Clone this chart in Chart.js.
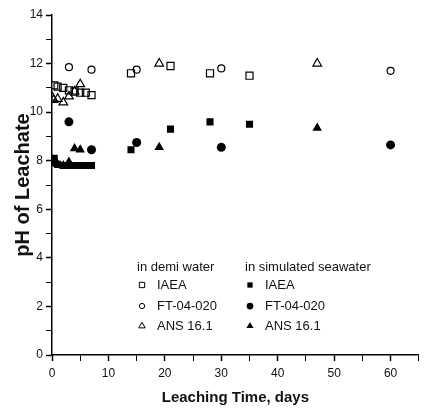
<!DOCTYPE html>
<html>
<head>
<meta charset="utf-8">
<script src="https://cdn.jsdelivr.net/npm/chart.js@4/dist/chart.umd.min.js"></script>
<style>
  body { margin: 0; background: #fff; }
  canvas { display: block; }
</style>
</head>
<body>
<canvas id="myChart" width="425" height="417"></canvas>
<script>
// leaching days per test method
const iaeaDays = [0.4, 1, 2, 3, 4, 5, 6, 7, 14, 21, 28, 35];
const ftDays = [3, 7, 15, 30, 60];
const ansDays = [0.08, 0.29, 1, 2, 3, 4, 5, 19, 47];

// pH in demi water
const demiIaeaPH = [11.1, 11.05, 11.0, 10.9, 10.85, 10.8, 10.8, 10.7, 11.6, 11.9, 11.6, 11.5];
const demiFtPH = [11.85, 11.75, 11.75, 11.8, 11.7];
const demiAnsPH = [10.6, 10.5, 10.55, 10.4, 10.65, 10.85, 11.15, 12.0, 12.0];

// pH in simulated seawater
const seaIaeaPH = [8.1, 7.85, 7.8, 7.8, 7.8, 7.8, 7.8, 7.8, 8.45, 9.3, 9.6, 9.5];
const seaFtPH = [9.6, 8.45, 8.75, 8.55, 8.65];
const seaAnsPH = [7.95, 7.9, 7.85, 7.8, 7.95, 8.5, 8.45, 8.55, 9.35];

const legendTitles = ["in demi water", "in simulated seawater"];
const xTickLabels = [0, 10, 20, 30, 40, 50, 60];
const yTickLabels = [0, 2, 4, 6, 8, 10, 12, 14];

Chart.defaults.font.family = "'Liberation Sans', Arial, sans-serif";
Chart.defaults.color = "#111";

function pts(days, ph) {
    return days.map((d, i) => ({ x: d, y: ph[i] }));
}

function set(label, days, ph, style, radius, filled) {
    return {
        label: label,
        data: pts(days, ph),
        pointStyle: style,
        pointRadius: radius,
        pointHoverRadius: radius,
        borderColor: "#000",
        backgroundColor: filled ? "#000" : "rgba(0,0,0,0)",
        borderWidth: filled ? 0 : 1.2,
        showLine: false
    };
}

// two-column legend inside the plot
const columnLegend = {
    id: "columnLegend",
    afterDraw(chart) {
        const ctx = chart.ctx;
        const a = chart.chartArea;
        const cols = [a.left + 85, a.left + 193];
        const headY = a.top + 252;
        const rowGap = [18, 39, 59];
        ctx.save();
        ctx.font = "13px 'Liberation Sans', Arial, sans-serif";
        ctx.fillStyle = "#111";
        ctx.textBaseline = "middle";
        ctx.textAlign = "left";
        cols.forEach((cx, c) => {
            ctx.fillStyle = "#111";
            ctx.fillText(legendTitles[c], cx, headY);
            for (let r = 0; r < 3; r++) {
                const ds = chart.data.datasets[c * 3 + r];
                const y = headY + rowGap[r];
                ctx.strokeStyle = "#000";
                ctx.fillStyle = ds.backgroundColor;
                ctx.lineWidth = 1;
                Chart.helpers.drawPoint(ctx, {
                    pointStyle: ds.pointStyle,
                    radius: ds.pointRadius * 0.75,
                    rotation: 0,
                    borderWidth: ds.borderWidth ? 1 : 0
                }, cx + 5, y);
                ctx.fillStyle = "#111";
                ctx.fillText(ds.label, cx + 20, y);
            }
        });
        ctx.restore();
    }
};

const ctx = document.getElementById("myChart").getContext("2d");
const chart = new Chart(ctx, {
    type: "scatter",
    data: {
        datasets: [
            set("IAEA", iaeaDays, demiIaeaPH, "rect", 5, false),
            set("FT-04-020", ftDays, demiFtPH, "circle", 3.5, false),
            set("ANS 16.1", ansDays, demiAnsPH, "triangle", 5, false),
            set("IAEA", iaeaDays, seaIaeaPH, "rect", 5, true),
            set("FT-04-020", ftDays, seaFtPH, "circle", 4.5, true),
            set("ANS 16.1", ansDays, seaAnsPH, "triangle", 5.5, true)
        ]
    },
    options: {
        responsive: false,
        animation: false,
        layout: { padding: { top: 15, right: 0, left: 0, bottom: 0 } },
        plugins: {
            legend: { display: false },
            tooltip: { enabled: false }
        },
        scales: {
            x: {
                type: "linear",
                min: 0,
                max: 65,
                afterBuildTicks: (s) => {
                    s.ticks = [];
                    for (let v = 0; v <= 65; v += 5) s.ticks.push({ value: v });
                },
                afterFit: (s) => { s.height = 62; },
                ticks: {
                    maxRotation: 0,
                    padding: 5,
                    font: { size: 12 },
                    callback: (v) => xTickLabels.includes(v) ? String(v) : ""
                },
                grid: {
                    drawOnChartArea: false,
                    tickLength: 6,
                    tickColor: "#000",
                    tickWidth: (c) => xTickLabels.includes(c.tick.value) ? 1.5 : 1
                },
                border: { color: "#000", width: 1.5 },
                title: {
                    display: true,
                    text: "Leaching Time, days",
                    font: { size: 15, weight: "bold" },
                    color: "#111",
                    padding: { top: 0, bottom: 10 }
                }
            },
            y: {
                type: "linear",
                min: 0,
                max: 14,
                afterBuildTicks: (s) => {
                    s.ticks = [];
                    for (let v = 0; v <= 14; v += 1) s.ticks.push({ value: v });
                },
                afterFit: (s) => { s.width = 52; },
                ticks: {
                    padding: 3,
                    font: { size: 12 },
                    callback: (v) => yTickLabels.includes(v) ? String(v) : ""
                },
                grid: {
                    drawOnChartArea: false,
                    tickLength: 6,
                    tickColor: "#000",
                    tickWidth: (c) => yTickLabels.includes(c.tick.value) ? 1.5 : 1
                },
                border: { color: "#000", width: 1.5 },
                title: {
                    display: true,
                    text: "pH of Leachate",
                    font: { size: 20, weight: "bold" },
                    color: "#111",
                    padding: { top: 11, bottom: 0 }
                }
            }
        }
    },
    plugins: [columnLegend]
});
</script>
</body>
</html>
